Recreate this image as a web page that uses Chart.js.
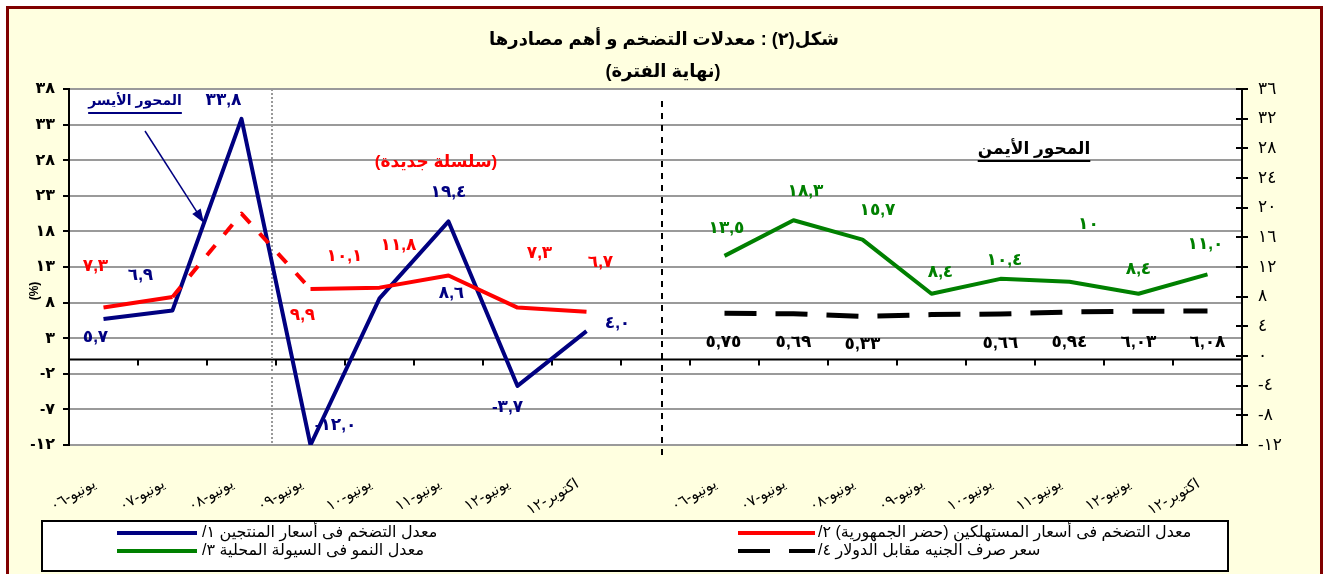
<!DOCTYPE html>
<html>
<head>
<meta charset="utf-8">
<script src="https://cdn.jsdelivr.net/npm/chart.js@4/dist/chart.umd.min.js"></script>
<style>
  body { margin: 0; background: #fff; }
  canvas { display: block; }
</style>
</head>
<body>
<canvas id="chart" width="1327" height="574"></canvas>
<script>
// categories (left panel, right panel)
const leftCats = ['يونيو-٠٦', 'يونيو-٠٧', 'يونيو-٠٨', 'يونيو-٠٩', 'يونيو-١٠', 'يونيو-١١', 'يونيو-١٢', 'اكتوبر-١٢'];
const rightCats = ['يونيو-٠٦', 'يونيو-٠٧', 'يونيو-٠٨', 'يونيو-٠٩', 'يونيو-١٠', 'يونيو-١١', 'يونيو-١٢', 'اكتوبر-١٢'];

// series (left axis)
const producerInflation = [5.7, 6.9, 33.8, -12.0, 8.6, 19.4, -3.7, 4.0];
const consumerInflation = [7.3, 8.8, 20.5, 9.9, 10.1, 11.8, 7.3, 6.7];
// series (right axis)
const liquidityGrowth = [13.5, 18.3, 15.7, 8.4, 10.4, 10.0, 8.4, 11.0];
const exchangeRate = [5.75, 5.69, 5.33, 5.58, 5.66, 5.94, 6.03, 6.08];

// axis ranges
const leftAxis = { min: -12, max: 38, step: 5 };
const rightAxis = { min: -12, max: 36, step: 4 };

const seriesNames = [
  'معدل التضخم فى أسعار المنتجين ١/',
  'معدل التضخم فى أسعار المستهلكين (حضر الجمهورية) ٢/',
  'معدل النمو فى السيولة المحلية ٣/',
  'سعر صرف الجنيه مقابل الدولار ٤/'
];

const FONT = "'Liberation Sans', Arial, 'DejaVu Sans', sans-serif";
const AR_DIGITS = '٠١٢٣٤٥٦٧٨٩';
const toArabic = s => String(s).replace(/[0-9]/g, d => AR_DIGITS[d]).replace('.', ',');

const gap = [''];
const labels = leftCats.concat(gap, rightCats);
const padRight = arr => arr.concat(new Array(rightCats.length + 1).fill(null));
const padLeft = arr => new Array(leftCats.length + 1).fill(null).concat(arr);
const RIGHT_START = leftCats.length + 1;

// x pixel for a fractional category position
function xAt(chart, v) {
  const s = chart.scales.x;
  const i = Math.floor(v);
  const a = s.getPixelForValue(i), b = s.getPixelForValue(i + 1);
  return a + (b - a) * (v - i);
}

const backgroundPlugin = {
  id: 'background',
  beforeDraw(chart) {
    const { ctx, chartArea: a } = chart;
    ctx.save();
    ctx.fillStyle = '#fff';
    ctx.fillRect(0, 0, chart.width, chart.height);
    ctx.fillStyle = '#FFFFE0';
    ctx.fillRect(8, 8, 1313, 570);
    ctx.strokeStyle = '#800000';
    ctx.lineWidth = 3;
    ctx.strokeRect(7.5, 7.5, 1314, 580);
    ctx.fillStyle = '#fff';
    ctx.fillRect(a.left, a.top, a.right - a.left, a.bottom - a.top);
    ctx.restore();
  }
};

const axisExtrasPlugin = {
  id: 'axisExtras',
  beforeDatasetsDraw(chart) {
    const { ctx, chartArea: a, scales: { y, y2 } } = chart;
    ctx.save();
    // zero line with category boundary ticks
    const y0 = y.getPixelForValue(0);
    ctx.strokeStyle = '#000';
    ctx.lineWidth = 2;
    ctx.beginPath();
    ctx.moveTo(a.left, y0);
    ctx.lineTo(a.right, y0);
    for (let i = 1; i < labels.length; i++) {
      const bx = Math.round(xAt(chart, i - 0.5));
      ctx.moveTo(bx, y0);
      ctx.lineTo(bx, y0 + 6);
    }
    // inner half of right axis ticks
    y2.ticks.forEach(t => {
      const ty = Math.round(y2.getPixelForValue(t.value));
      ctx.moveTo(a.right - 6, ty);
      ctx.lineTo(a.right, ty);
    });
    ctx.stroke();
    // dotted separator (old / new series)
    ctx.strokeStyle = '#999';
    ctx.setLineDash([2, 2]);
    ctx.beginPath();
    const sx = Math.round(xAt(chart, 2.44));
    ctx.moveTo(sx, a.top);
    ctx.lineTo(sx, a.bottom);
    ctx.stroke();
    // dashed separator between the two panels
    ctx.strokeStyle = '#000';
    ctx.setLineDash([6, 6]);
    ctx.beginPath();
    const px = Math.round(xAt(chart, 8.1));
    ctx.moveTo(px, a.top + 12);
    ctx.lineTo(px, a.bottom + 14);
    ctx.stroke();
    ctx.restore();
  }
};

const valueLabelsPlugin = {
  id: 'valueLabels',
  afterDatasetsDraw(chart) {
    const ctx = chart.ctx;
    ctx.save();
    ctx.textAlign = 'center';
    ctx.textBaseline = 'middle';
    ctx.direction = 'ltr';
    chart.data.datasets.forEach((ds, di) => {
      const meta = chart.getDatasetMeta(di);
      ctx.fillStyle = ds.borderColor;
      ctx.font = 'bold ' + ds.labelSize + 'px ' + FONT;
      ds.data.forEach((v, j) => {
        if (v == null) return;
        const k = j - ds.startIndex;
        const off = ds.labelOffsets[k];
        if (!off) return;
        const p = meta.data[j];
        const txt = toArabic(v.toFixed(ds.labelDigits[k]));
        ctx.fillText(txt, p.x + off[0], p.y + off[1]);
      });
    });
    ctx.restore();
  }
};

function underlinedText(ctx, text, x, y, font, color) {
  ctx.font = font;
  ctx.fillStyle = color;
  ctx.strokeStyle = color;
  ctx.fillText(text, x, y);
  const w = ctx.measureText(text).width;
  ctx.lineWidth = 2;
  ctx.beginPath();
  ctx.moveTo(x - w / 2, y + 12);
  ctx.lineTo(x + w / 2, y + 12);
  ctx.stroke();
}

const annotationsPlugin = {
  id: 'annotations',
  afterDraw(chart) {
    const ctx = chart.ctx;
    ctx.save();
    ctx.direction = 'rtl';
    ctx.textAlign = 'center';
    ctx.textBaseline = 'middle';
    // title
    ctx.fillStyle = '#000';
    ctx.font = 'bold 18px ' + FONT;
    ctx.fillText('شكل(٢) : معدلات التضخم و أهم مصادرها', 664, 40);
    ctx.fillText('(نهاية الفترة)', 663, 72);
    // axis notes
    underlinedText(ctx, 'المحور الأيسر', 135, 101, 'bold 14px ' + FONT, '#000080');
    underlinedText(ctx, 'المحور الأيمن', 1034, 149, 'bold 17px ' + FONT, '#000');
    ctx.fillStyle = '#FF0000';
    ctx.font = 'bold 17px ' + FONT;
    ctx.fillText('(سلسلة جديدة)', 436, 162);
    // arrow to left-axis series
    ctx.strokeStyle = '#000080';
    ctx.fillStyle = '#000080';
    ctx.lineWidth = 1.5;
    const x0 = 145, y0 = 131, x1 = 204, y1 = 223;
    const ang = Math.atan2(y1 - y0, x1 - x0);
    ctx.beginPath();
    ctx.moveTo(x0, y0);
    ctx.lineTo(x1 - 10 * Math.cos(ang), y1 - 10 * Math.sin(ang));
    ctx.stroke();
    ctx.beginPath();
    ctx.moveTo(x1, y1);
    ctx.lineTo(x1 - 14 * Math.cos(ang) + 5 * Math.sin(ang), y1 - 14 * Math.sin(ang) - 5 * Math.cos(ang));
    ctx.lineTo(x1 - 14 * Math.cos(ang) - 5 * Math.sin(ang), y1 - 14 * Math.sin(ang) + 5 * Math.cos(ang));
    ctx.closePath();
    ctx.fill();
    // (%) unit, rotated
    ctx.save();
    ctx.translate(35, 291);
    ctx.rotate(-Math.PI / 2);
    ctx.direction = 'ltr';
    ctx.fillStyle = '#000';
    ctx.font = 'bold 12px ' + FONT;
    ctx.fillText('(%)', 0, 0);
    ctx.restore();
    ctx.restore();
  }
};

const boxLegendPlugin = {
  id: 'boxLegend',
  afterDraw(chart) {
    const ctx = chart.ctx;
    const box = { left: 42, top: 521, right: 1228, bottom: 571 };
    const rows = [533, 551];
    const cols = [{ x0: 117, x1: 197, tx: 202 }, { x0: 738, x1: 815, tx: 818 }];
    ctx.save();
    ctx.fillStyle = '#fff';
    ctx.fillRect(box.left, box.top, box.right - box.left, box.bottom - box.top);
    ctx.strokeStyle = '#000';
    ctx.lineWidth = 2;
    ctx.strokeRect(box.left, box.top, box.right - box.left, box.bottom - box.top);
    ctx.direction = 'rtl';
    ctx.textAlign = 'left';
    ctx.textBaseline = 'middle';
    ctx.font = '16px ' + FONT;
    chart.data.datasets.forEach((ds, i) => {
      const c = cols[i % 2], ry = rows[Math.floor(i / 2)];
      ctx.strokeStyle = ds.borderColor;
      ctx.lineWidth = 4;
      ctx.setLineDash(ds.borderDash || []);
      ctx.beginPath();
      ctx.moveTo(c.x0, ry);
      ctx.lineTo(c.x1, ry);
      ctx.stroke();
      ctx.setLineDash([]);
      ctx.fillStyle = '#000';
      ctx.fillText(ds.label, c.tx, ry);
    });
    ctx.restore();
  }
};

new Chart(document.getElementById('chart'), {
  type: 'line',
  data: {
    labels: labels,
    datasets: [
      {
        label: seriesNames[0],
        data: padRight(producerInflation),
        yAxisID: 'y',
        borderColor: '#000080',
        borderWidth: 4,
        order: 2,
        startIndex: 0,
        labelSize: 17,
        labelDigits: [1, 1, 1, 1, 1, 1, 1, 1],
        labelOffsets: [[-8, 18], [-32, -35], [-18, -19], [25, -20], [72, -5], [0, -29], [-10, 21], [31, -8]]
      },
      {
        label: seriesNames[1],
        data: padRight(consumerInflation),
        yAxisID: 'y',
        borderColor: '#FF0000',
        borderWidth: 4,
        order: 1,
        segment: {
          borderDash: c => (c.p0DataIndex >= 1 && c.p1DataIndex <= 3) ? [13, 14] : undefined
        },
        startIndex: 0,
        labelSize: 17,
        labelDigits: [1, 1, 1, 1, 1, 1, 1, 1],
        labelOffsets: [[-8, -41], null, null, [-8, 26], [-35, -31], [-50, -30], [22, -54], [14, -50]]
      },
      {
        label: seriesNames[2],
        data: padLeft(liquidityGrowth),
        yAxisID: 'y2',
        borderColor: '#008000',
        borderWidth: 4,
        order: 3,
        startIndex: RIGHT_START,
        labelSize: 17,
        labelDigits: [1, 1, 1, 1, 1, 0, 1, 1],
        labelOffsets: [[2, -28], [12, -29], [15, -29], [9, -21], [4, -19], [19, -58], [0, -24], [-2, -30]]
      },
      {
        label: seriesNames[3],
        data: padLeft(exchangeRate),
        yAxisID: 'y2',
        borderColor: '#000000',
        borderWidth: 5,
        borderDash: [32, 19],
        borderCapStyle: 'butt',
        order: 4,
        startIndex: RIGHT_START,
        labelSize: 17,
        labelDigits: [2, 2, 2, 2, 2, 2, 2, 2],
        labelOffsets: [[-1, 29], [0, 29], [0, 28], null, [0, 29], [0, 30], [0, 31], [0, 31]]
      }
    ]
  },
  options: {
    responsive: false,
    animation: false,
    elements: {
      point: { radius: 0 },
      line: { tension: 0, borderJoinStyle: 'round', fill: false }
    },
    layout: { padding: { top: 89, left: 0, right: 0, bottom: 0 } },
    plugins: {
      legend: { display: false },
      tooltip: { enabled: false },
      title: { display: false }
    },
    scales: {
      x: {
        offset: true,
        grid: { display: false, drawTicks: false },
        border: { display: false },
        ticks: {
          autoSkip: false,
          minRotation: 30,
          maxRotation: 30,
          padding: 30,
          labelOffset: -9,
          color: '#000',
          font: { family: FONT, size: 15 }
        },
        afterFit: s => { s.height = 129; }
      },
      y: {
        position: 'left',
        min: leftAxis.min,
        max: leftAxis.max,
        ticks: {
          stepSize: leftAxis.step,
          callback: v => toArabic(v),
          color: '#000',
          padding: 8,
          font: { family: FONT, size: 16, weight: 'bold' }
        },
        grid: { color: '#9a9a9a', lineWidth: 2, tickColor: '#000', tickLength: 6 },
        border: { color: '#000', width: 2 },
        afterFit: s => { s.width = 69; }
      },
      y2: {
        position: 'right',
        min: rightAxis.min,
        max: rightAxis.max,
        ticks: {
          stepSize: rightAxis.step,
          callback: v => toArabic(v),
          color: '#000',
          padding: 10,
          font: { family: FONT, size: 17 }
        },
        grid: { drawOnChartArea: false, tickColor: '#000', tickLength: 6, lineWidth: 2 },
        border: { color: '#000', width: 2 },
        afterFit: s => { s.width = 85; }
      }
    }
  },
  plugins: [backgroundPlugin, axisExtrasPlugin, valueLabelsPlugin, annotationsPlugin, boxLegendPlugin]
});
</script>
</body>
</html>
